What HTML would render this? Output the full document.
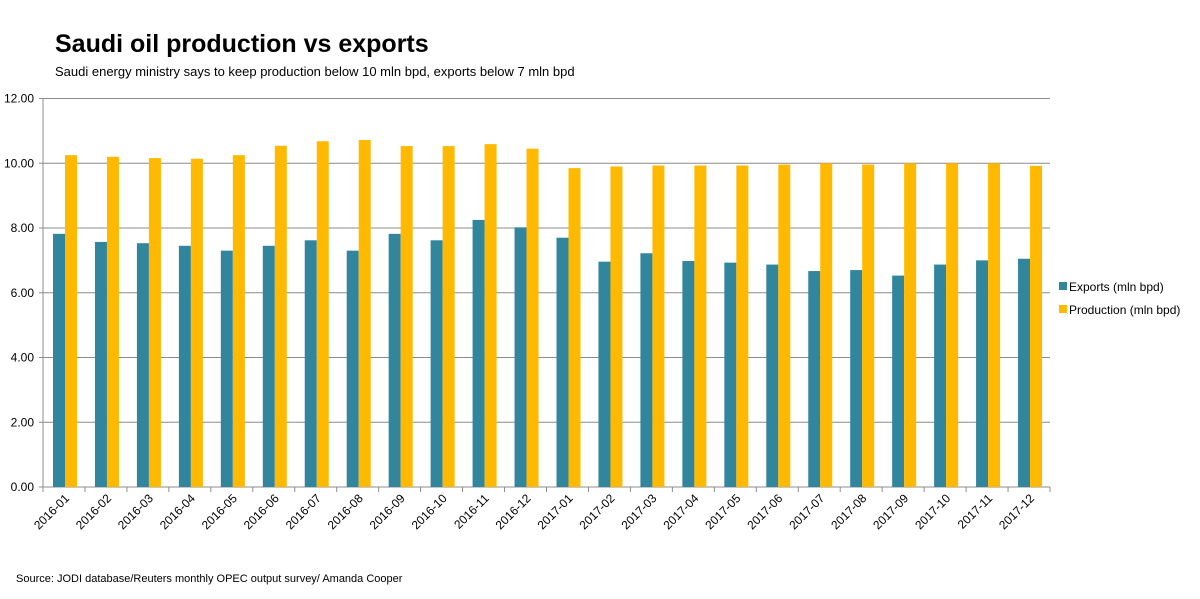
<!DOCTYPE html>
<html><head><meta charset="utf-8"><style>
body{margin:0;background:#fff;font-family:"Liberation Sans",Arial,sans-serif;}
svg text{font-family:"Liberation Sans",Arial,sans-serif;}
</style></head><body>
<svg id="chart" width="1200" height="594" viewBox="0 0 1200 594">
<text x="55" y="52" font-size="25" font-weight="bold" fill="#000">Saudi oil production vs exports</text>
<text x="55" y="76" font-size="13" fill="#000">Saudi energy ministry says to keep production below 10 mln bpd, exports below 7 mln bpd</text>
<g id="grid"></g><g id="bars"></g><g id="axes"></g>
<g>
<rect x="1059" y="282" width="8" height="8" fill="#31859c"/>
<text x="1069" y="291" font-size="12" fill="#000">Exports (mln bpd)</text>
<rect x="1059" y="305" width="8" height="8" fill="#ffb900"/>
<text x="1069" y="314" font-size="12" fill="#000">Production (mln bpd)</text>
</g>
<text x="16" y="582" font-size="11" fill="#000">Source: JODI database/Reuters monthly OPEC output survey/ Amanda Cooper</text>
</svg>
<script>
const categories=["2016-01","2016-02","2016-03","2016-04","2016-05","2016-06","2016-07","2016-08","2016-09","2016-10","2016-11","2016-12","2017-01","2017-02","2017-03","2017-04","2017-05","2017-06","2017-07","2017-08","2017-09","2017-10","2017-11","2017-12"];
const exportsValues=[7.82,7.57,7.53,7.45,7.30,7.45,7.62,7.30,7.82,7.62,8.25,8.02,7.70,6.96,7.22,6.98,6.93,6.87,6.67,6.70,6.53,6.87,7.00,7.05];
const productionValues=[10.25,10.20,10.16,10.14,10.25,10.54,10.68,10.72,10.53,10.53,10.59,10.45,9.85,9.90,9.93,9.93,9.93,9.96,10.00,9.96,10.00,10.00,10.00,9.92];
const yTicks=[0,2,4,6,8,10,12];
const NS="http://www.w3.org/2000/svg";
const X0=43,X1=1050,Y0=487,Y1=98.5,YMAX=12;
const band=(X1-X0)/categories.length;
const y=v=>Y0-(v/YMAX)*(Y0-Y1);
const xc=i=>X0+band*i;
function mk(tag,attrs,parent){const e=document.createElementNS(NS,tag);for(const k in attrs)e.setAttribute(k,attrs[k]);parent.appendChild(e);return e;}
const grid=document.getElementById('grid'),bars=document.getElementById('bars'),axes=document.getElementById('axes');
yTicks.forEach(t=>{
 const l=mk('line',{x1:X0,x2:X1,y1:y(t),y2:y(t),stroke:'#8c8c8c','stroke-width':1},grid);
 
 
 const tx=mk('text',{x:34,y:y(t)+4,'font-size':12,'text-anchor':'end',fill:'#000'},axes);
 tx.textContent=t.toFixed(2);
 
 
 const tk=mk('line',{x1:X0-4,x2:X0,y1:y(t),y2:y(t),stroke:'#8c8c8c'},axes);
});
mk('line',{x1:X0,x2:X0,y1:Y1,y2:Y0,stroke:'#8c8c8c'},axes);
categories.forEach((c,i)=>{
 const bx=xc(i)+10;
 const e=mk('rect',{x:bx,y:y(exportsValues[i]),width:12,height:Y0-y(exportsValues[i]),fill:'#31859c'},bars);
 
 
 const p=mk('rect',{x:bx+12,y:y(productionValues[i]),width:12,height:Y0-y(productionValues[i]),fill:'#ffb900'},bars);
 
 
 mk('line',{x1:xc(i),x2:xc(i),y1:Y0,y2:Y0+5,stroke:'#8c8c8c'},axes);
 const cx=xc(i)+band/2+6,cy=Y0+12;
 const t=mk('text',{x:cx,y:cy,'font-size':12,'text-anchor':'end',fill:'#000',transform:`rotate(-45 ${cx} ${cy})`},axes);
 t.textContent=c;
 
 
});
mk('line',{x1:X1,x2:X1,y1:Y0,y2:Y0+5,stroke:'#8c8c8c'},axes);
</script>
</body></html>
